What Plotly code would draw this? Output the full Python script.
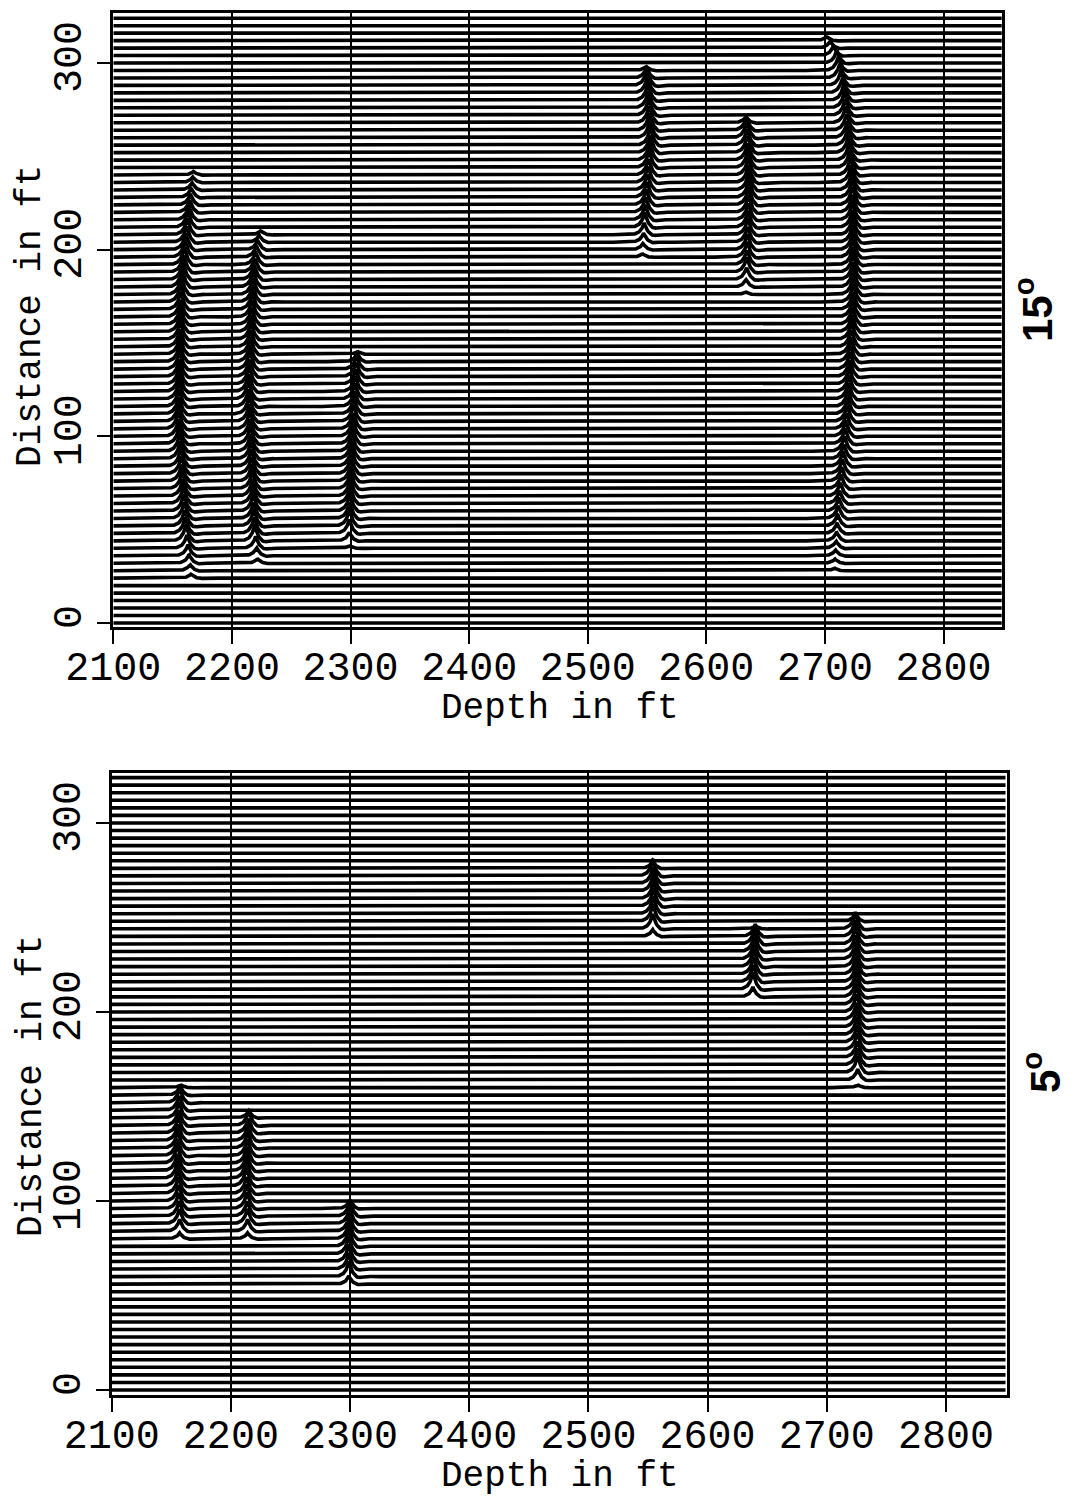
import numpy as np
import plotly.graph_objects as go

# Receiver traces: one every 4 ft of distance, sampled every 0.5 ft in depth
trace_distances = list(range(0, 325, 4))
depth_start, depth_end = 2100, 2850
depth_ticks = [2100, 2200, 2300, 2400, 2500, 2600, 2700, 2800]
distance_ticks = [0, 100, 200, 300]

# 15 degree survey: each reflection event as (distance, arrival depth, amplitude in ft)
dist_15 = [
    [22, 45, 103, 173, 212, 242],
    [30, 45, 120, 180, 198, 210],
    [40, 50, 90, 135, 144],
    [195, 212, 255, 288, 297],
    [176, 186, 230, 262, 270],
    [28, 55, 110, 170, 230, 280, 300, 314],
]
depth_15 = [
    [2166, 2161, 2155, 2157, 2163, 2168],
    [2222, 2219, 2214, 2218, 2221, 2225],
    [2299, 2299, 2301, 2305, 2306],
    [2546, 2548, 2553, 2550, 2549],
    [2633, 2634, 2636, 2634, 2633],
    [2708, 2711, 2719, 2724, 2723, 2716, 2710, 2700],
]
amp_15 = [
    [1.5, 9, 10, 10, 9, 1.5],
    [1.5, 9, 10, 9, 6, 1.5],
    [1.5, 9, 10, 8, 1.5],
    [1.5, 8, 10, 9, 1.5],
    [1.5, 8, 10, 9, 1.5],
    [1.5, 7, 9, 10, 10, 9, 7, 1.5],
]

# 5 degree survey
dist_5 = [
    [78, 86, 120, 152, 160],
    [78, 86, 110, 140, 146],
    [53, 60, 75, 93, 99],
    [238, 245, 260, 272, 278],
    [205, 211, 225, 238, 244],
    [160, 167, 205, 244, 250],
]
depth_5 = [
    [2157, 2157, 2155, 2157, 2158],
    [2214, 2214, 2213, 2215, 2215],
    [2299, 2299, 2299, 2300, 2300],
    [2554, 2554, 2555, 2554, 2554],
    [2638, 2638, 2639, 2640, 2640],
    [2726, 2726, 2725, 2724, 2724],
]
amp_5 = [
    [1.5, 8, 10, 8, 1.5],
    [1.5, 8, 10, 8, 1.5],
    [1.5, 8, 10, 8, 1.5],
    [1.5, 9, 10, 9, 1.5],
    [1.5, 9, 10, 9, 1.5],
    [1.5, 9, 10, 9, 1.5],
]

PULSE_DECAY = 3.0  # ft


def wavelet(t):
    # sharp, cusp-like pulse with a faint trailing dip
    u = t / PULSE_DECAY
    return np.exp(-np.abs(u)) - 0.12 * np.exp(-0.5 * ((u - 2.5) / 1.0) ** 2)


def wiggle_lines(dists, depths, amps):
    x = np.arange(depth_start, depth_end + 0.5, 0.5)
    xs, ys = [], []
    for d in trace_distances:
        y = np.full_like(x, float(d))
        for dd, tt, aa in zip(dists, depths, amps):
            if dd[0] <= d <= dd[-1]:
                t0 = np.interp(d, dd, tt)
                a = np.interp(d, dd, aa)
                y = y + a * wavelet(x - t0)
        # drop samples on flat stretches to keep the path light
        keep = np.ones_like(x, dtype=bool)
        flat = np.abs(y - d) < 1e-3
        keep[1:-1] = ~(flat[1:-1] & flat[:-2] & flat[2:])
        xs.extend(x[keep].tolist() + [None])
        ys.extend(np.round(y[keep], 2).tolist() + [None])
    return xs, ys


W, H = 1077, 1498
fig = go.Figure()

x15, y15 = wiggle_lines(dist_15, depth_15, amp_15)
x5, y5 = wiggle_lines(dist_5, depth_5, amp_5)

fig.add_trace(go.Scatter(x=x15, y=y15, mode="lines", xaxis="x", yaxis="y",
                         line=dict(color="black", width=3.6), hoverinfo="skip",
                         showlegend=False))
fig.add_trace(go.Scatter(x=x5, y=y5, mode="lines", xaxis="x2", yaxis="y2",
                         line=dict(color="black", width=3.6), hoverinfo="skip",
                         showlegend=False))

font_mono = "Liberation Mono, Courier New, monospace"


def xaxis_style(left, right, rng, anchor):
    return dict(
        domain=[left / W, right / W], range=rng, anchor=anchor,
        automargin=False,
        tickvals=depth_ticks, ticktext=[str(v) for v in depth_ticks],
        ticks="outside", ticklen=14, tickwidth=2, tickcolor="black",
        ticklabelstandoff=-12,
        showgrid=True, gridcolor="black", gridwidth=2,
        showline=True, linecolor="black", linewidth=3, mirror=True,
        zeroline=False,
        tickfont=dict(family=font_mono, size=40, color="black"),
    )


def yaxis_style(top, bottom, rng, anchor):
    return dict(
        domain=[1 - bottom / H, 1 - top / H], range=rng, anchor=anchor,
        automargin=False,
        tickvals=distance_ticks, ticktext=[str(v) for v in distance_ticks],
        ticks="outside", ticklen=13, tickwidth=2, tickcolor="black",
        tickangle=-90, showgrid=False,
        showline=True, linecolor="black", linewidth=3, mirror=True,
        zeroline=False,
        tickfont=dict(family=font_mono, size=40, color="black"),
    )


def label(text, x, y, angle=0, family=font_mono, size=36):
    return dict(text=text, x=x / W, y=1 - y / H, xref="paper", yref="paper",
                xanchor="center", yanchor="middle", showarrow=False,
                textangle=angle, font=dict(family=family, size=size, color="black"))


fig.update_layout(
    width=W, height=H,
    margin=dict(l=0, r=0, t=0, b=0),
    paper_bgcolor="white", plot_bgcolor="white",
    xaxis=xaxis_style(113.3, 1001.7, [2100, 2849], "y"),
    yaxis=yaxis_style(13, 626.5, [-1.9, 326.8], "x"),
    xaxis2=xaxis_style(111.7, 1006.7, [2100, 2851], "y2"),
    yaxis2=yaxis_style(772.7, 1395, [-2.65, 326.6], "x2"),
    annotations=[
        label("Depth in ft", 560, 708),
        label("Distance in ft", 31, 316, angle=-90),
        label("Depth in ft", 560, 1476),
        label("Distance in ft", 31, 1086, angle=-90),
        label("<b>15<sup>o</sup></b>", 1034, 310, angle=-90,
              family="Liberation Sans, Arial", size=42),
        label("<b>5<sup>o</sup></b>", 1042, 1073, angle=-90,
              family="Liberation Sans, Arial", size=42),
    ],
)

fig.write_html("out.html")
